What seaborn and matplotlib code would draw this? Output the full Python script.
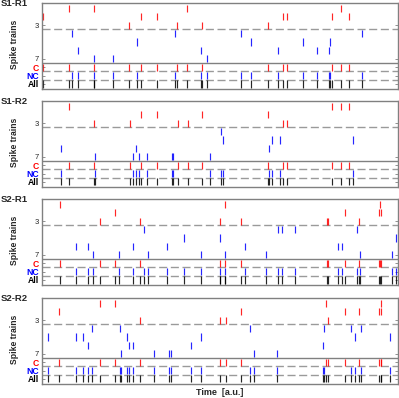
import numpy as np
import pandas as pd
import seaborn as sns
from matplotlib import pyplot as plt

# spike times [a.u., 0-100] for neurons 1..7 in each recording
# neurons 1-3 are "C" (red), neurons 4-7 are "NC" (blue)
panel_names = ["S1-R1", "S1-R2", "S2-R1", "S2-R2"]

s1r1 = [
    [7.6, 14.6, 40.8, 84.1],
    [0.3, 27.9, 32.4, 67.8, 68.7, 81.4, 86.2],
    [24.5, 38.0, 45.0, 63.6],
    [8.5, 37.5, 56.0, 89.9],
    [26.8, 58.8, 73.4, 80.8],
    [10.1, 44.8, 66.3, 77.4, 80.6],
    [14.6, 20.0, 46.4],
]
s1r2 = [
    [7.7, 81.4, 84.1, 86.3],
    [27.8, 32.3, 45.0, 63.6],
    [14.7, 24.6, 38.1, 40.9, 67.8, 68.7],
    [50.3],
    [50.8, 64.6, 67.0, 87.3],
    [5.4, 26.5, 63.9],
    [15.0, 25.5, 27.2, 29.5, 36.4, 36.9, 47.2],
]
s2r1 = [
    [5.1, 51.5, 95.0],
    [20.6, 85.1, 94.7, 95.3],
    [16.3, 27.6, 49.9, 56.0, 80.0, 80.4, 89.1],
    [28.7, 66.3, 67.5, 71.0, 88.6],
    [39.8, 49.9, 99.6],
    [9.6, 13.0, 25.7, 35.1, 57.0, 83.2, 84.4],
    [14.3, 21.5, 29.8, 44.8, 51.4, 62.9, 89.3, 98.3],
]
s2r2 = [
    [16.3, 20.6, 79.7, 95.2],
    [4.9, 55.8, 85.1, 89.1, 94.7, 95.3],
    [27.4, 49.9, 51.7, 80.4],
    [14.0, 22.0, 58.3, 79.2, 86.8, 89.6],
    [1.8, 9.6, 11.6, 23.9, 44.8, 88.0, 97.7],
    [13.0, 24.3, 25.5, 42.0, 79.0],
    [22.2, 31.5, 35.8, 36.3, 59.7, 65.9],
]
all_panels = [s1r1, s1r2, s2r1, s2r2]

n_c = 3
tick_pos = [3, 7, 8, 9, 10]
tick_labels = ["3", "7", "C", "NC", "All"]
palette = {"C": "#ff0000", "NC": "#0000ff", "All": "#000000"}


def spikes_frame(trains):
    rows = []
    for i, times in enumerate(trains):
        kind = "C" if i < n_c else "NC"
        for t in times:
            rows.append((t, i + 1, kind))
            # pooled rows underneath the solid line
            rows.append((t, 8 if kind == "C" else 9, kind))
            rows.append((t, 10, "All"))
    return pd.DataFrame(rows, columns=["time", "train", "kind"])


sns.set_style("white")
plt.rcParams["font.family"] = ["Liberation Sans", "DejaVu Sans"]

fig = plt.figure(figsize=(3.99, 3.98), dpi=100)
bottoms = [0.7764, 0.5302, 0.2839, 0.0352]
frame = "#808080"

for name, trains, b in zip(panel_names, all_panels, bottoms):
    ax = fig.add_axes([0.1053, b, 0.892, 0.216])
    df = spikes_frame(trains)
    sns.scatterplot(data=df, x="time", y="train", hue="kind", palette=palette,
                    marker="|", s=26, linewidth=0.85, alpha=0.85, legend=False, ax=ax)
    ax.set_xlim(0, 100)
    ax.set_ylim(10.6, 0.35)
    for y in [3.5, 8.5, 9.5]:
        ax.axhline(y, color="#9a9a9a", lw=1.0, ls=(0, (5.8, 2.6)), zorder=0)
    ax.axhline(7.5, color=frame, lw=1.0, zorder=0)
    for sp in ax.spines.values():
        sp.set_color(frame)
        sp.set_linewidth(1.0)
    ax.set_xticks([])
    ax.set_yticks(tick_pos)
    ax.set_yticklabels(tick_labels)
    ax.tick_params(axis="y", direction="in", length=2.5, width=0.6, color=frame,
                   left=True, right=True, pad=2, labelsize=5.5)
    for lab in ax.get_yticklabels():
        txt = lab.get_text()
        if txt in palette:
            lab.set_color(palette[txt])
            lab.set_fontweight("bold")
            lab.set_fontsize(6.2)
    ax.set_xlabel("")
    ax.set_ylabel("")
    ax.text(-0.078, 0.52, "Spike trains", transform=ax.transAxes, rotation=90,
            ha="center", va="center", fontsize=6.2, fontweight="bold")
    ax.text(-0.115, 1.0, name, transform=ax.transAxes, ha="left", va="center",
            fontsize=6.8, fontweight="bold")

fig.text(0.551, 0.0126, "Time  [a.u.]", ha="center", va="center",
         fontsize=6.5, fontweight="bold")

fig.savefig("out.png", dpi=100)
